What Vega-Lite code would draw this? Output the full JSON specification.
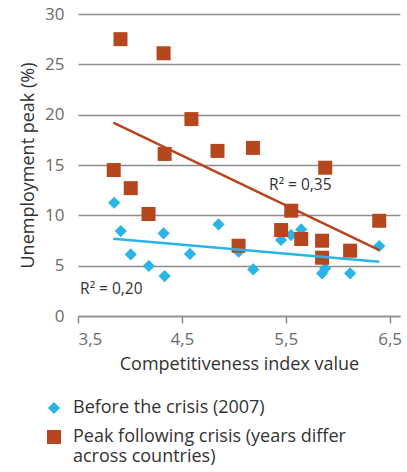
{
  "$schema": "https://vega.github.io/schema/vega-lite/v6.json",
  "width": 322,
  "height": 302,
  "autosize": {"type": "none"},
  "padding": {"left": 78, "top": 14, "right": 7, "bottom": 156},
  "config": {"font": "Open Sans", "view": {"stroke": null}},
  "datasets": {
    "points": [
      {"x": 3.848, "y": 11.25, "s": "Before the crisis (2007)"},
      {"x": 3.912, "y": 8.44, "s": "Before the crisis (2007)"},
      {"x": 4.008, "y": 6.12, "s": "Before the crisis (2007)"},
      {"x": 4.182, "y": 4.97, "s": "Before the crisis (2007)"},
      {"x": 4.324, "y": 8.21, "s": "Before the crisis (2007)"},
      {"x": 4.334, "y": 3.97, "s": "Before the crisis (2007)"},
      {"x": 4.578, "y": 6.16, "s": "Before the crisis (2007)"},
      {"x": 4.853, "y": 9.1, "s": "Before the crisis (2007)"},
      {"x": 5.046, "y": 6.39, "s": "Before the crisis (2007)"},
      {"x": 5.187, "y": 4.63, "s": "Before the crisis (2007)"},
      {"x": 5.455, "y": 7.55, "s": "Before the crisis (2007)"},
      {"x": 5.551, "y": 8.04, "s": "Before the crisis (2007)"},
      {"x": 5.649, "y": 8.6, "s": "Before the crisis (2007)"},
      {"x": 5.85, "y": 4.24, "s": "Before the crisis (2007)"},
      {"x": 5.88, "y": 4.74, "s": "Before the crisis (2007)"},
      {"x": 6.12, "y": 4.24, "s": "Before the crisis (2007)"},
      {"x": 6.4, "y": 6.95, "s": "Before the crisis (2007)"},
      {"x": 3.909, "y": 27.5, "s": "Peak following crisis (years differ across countries)"},
      {"x": 4.324, "y": 26.1, "s": "Peak following crisis (years differ across countries)"},
      {"x": 3.844, "y": 14.5, "s": "Peak following crisis (years differ across countries)"},
      {"x": 4.008, "y": 12.7, "s": "Peak following crisis (years differ across countries)"},
      {"x": 4.179, "y": 10.13, "s": "Peak following crisis (years differ across countries)"},
      {"x": 4.334, "y": 16.1, "s": "Peak following crisis (years differ across countries)"},
      {"x": 4.592, "y": 19.56, "s": "Peak following crisis (years differ across countries)"},
      {"x": 4.843, "y": 16.4, "s": "Peak following crisis (years differ across countries)"},
      {"x": 5.184, "y": 16.7, "s": "Peak following crisis (years differ across countries)"},
      {"x": 5.046, "y": 6.98, "s": "Peak following crisis (years differ across countries)"},
      {"x": 5.456, "y": 8.54, "s": "Peak following crisis (years differ across countries)"},
      {"x": 5.553, "y": 10.46, "s": "Peak following crisis (years differ across countries)"},
      {"x": 5.649, "y": 7.65, "s": "Peak following crisis (years differ across countries)"},
      {"x": 5.88, "y": 14.73, "s": "Peak following crisis (years differ across countries)"},
      {"x": 5.85, "y": 7.48, "s": "Peak following crisis (years differ across countries)"},
      {"x": 5.85, "y": 5.79, "s": "Peak following crisis (years differ across countries)"},
      {"x": 6.12, "y": 6.49, "s": "Peak following crisis (years differ across countries)"},
      {"x": 6.4, "y": 9.46, "s": "Peak following crisis (years differ across countries)"}
    ],
    "trends": [
      {"x": 3.84, "y": 7.68, "s": "before"},
      {"x": 6.4, "y": 5.39, "s": "before"},
      {"x": 3.84, "y": 19.2, "s": "peak"},
      {"x": 6.4, "y": 6.55, "s": "peak"}
    ],
    "labels": [
      {"x": 5.34, "y": 13.0, "t": "R² = 0,35"},
      {"x": 3.52, "y": 2.7, "t": "R² = 0,20"}
    ]
  },
  "layer": [
    {
      "data": {"name": "points"},
      "mark": {"type": "point", "filled": true, "opacity": 1, "strokeWidth": 0},
      "encoding": {
        "x": {
          "field": "x", "type": "quantitative",
          "scale": {"domain": [3.5, 6.6], "nice": false, "zero": false},
          "axis": {
            "values": [3.5, 4.5, 5.5, 6.5],
            "labelExpr": "replace(format(datum.value, '.1f'), '.', ',')",
            "title": "Competitiveness index value",
            "grid": false,
            "domainColor": "#8c8c8c", "domainWidth": 1.5,
            "tickColor": "#8c8c8c", "tickWidth": 1.5, "tickSize": 7,
            "labelFontSize": 17, "labelColor": "#6b6b6b", "labelPadding": 8,
            "titleFontSize": 18, "titleColor": "#333333", "titleFontWeight": "normal", "titlePadding": 8
          }
        },
        "y": {
          "field": "y", "type": "quantitative",
          "scale": {"domain": [0, 30], "nice": false},
          "axis": {
            "values": [0, 5, 10, 15, 20, 25, 30],
            "grid": true, "gridColor": "#8c8c8c", "gridWidth": 1.5,
            "domain": false, "ticks": false,
            "labelFontSize": 17, "labelColor": "#6b6b6b", "labelPadding": 14,
            "title": "Unemployment peak (%)",
            "titleFontSize": 18, "titleColor": "#333333", "titleFontWeight": "normal", "titlePadding": 7
          }
        },
        "color": {
          "field": "s", "type": "nominal",
          "scale": {"domain": ["Before the crisis (2007)", "Peak following crisis (years differ across countries)"], "range": ["#2BB5E6", "#B5461D"]},
          "legend": {
            "orient": "none", "legendX": -33, "legendY": 385, "title": null,
            "direction": "vertical",
            "labelFontSize": 18, "labelColor": "#333333", "labelLimit": 0,
            "symbolSize": 170, "symbolStrokeWidth": 0, "rowPadding": 11, "labelOffset": 10,
            "labelExpr": "datum.label == 'Peak following crisis (years differ across countries)' ? ['Peak following crisis (years differ', 'across countries)'] : datum.label"
          }
        },
        "shape": {
          "field": "s", "type": "nominal",
          "scale": {"domain": ["Before the crisis (2007)", "Peak following crisis (years differ across countries)"], "range": ["diamond", "square"]}
        },
        "size": {
          "field": "s", "type": "nominal",
          "scale": {"domain": ["Before the crisis (2007)", "Peak following crisis (years differ across countries)"], "range": [150, 196]},
          "legend": null
        }
      }
    },
    {
      "data": {"name": "trends"},
      "transform": [{"filter": "datum.s == 'peak'"}],
      "mark": {"type": "line", "strokeWidth": 2.5, "color": "#B5461D"},
      "encoding": {
        "x": {"field": "x", "type": "quantitative"},
        "y": {"field": "y", "type": "quantitative"}
      }
    },
    {
      "data": {"name": "trends"},
      "transform": [{"filter": "datum.s == 'before'"}],
      "mark": {"type": "line", "strokeWidth": 2.5, "color": "#2BB5E6"},
      "encoding": {
        "x": {"field": "x", "type": "quantitative"},
        "y": {"field": "y", "type": "quantitative"}
      }
    },
    {
      "data": {"name": "labels"},
      "mark": {"type": "text", "align": "left", "baseline": "middle", "fontSize": 15.5, "color": "#333333"},
      "encoding": {
        "x": {"field": "x", "type": "quantitative"},
        "y": {"field": "y", "type": "quantitative"},
        "text": {"field": "t"}
      }
    }
  ]
}
